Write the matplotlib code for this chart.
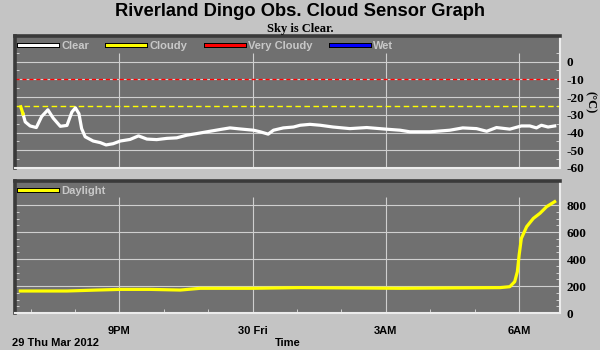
import matplotlib
matplotlib.use("Agg")
import matplotlib.pyplot as plt
from matplotlib.lines import Line2D
from matplotlib.ticker import FixedLocator
import matplotlib.patheffects as pe

# hours counted from 29 Mar 2012 00:00
sky_hours = [18.78, 18.83, 18.88, 18.99, 19.13, 19.25, 19.39, 19.51, 19.67, 19.82,
             19.93, 20.01, 20.09, 20.15, 20.23, 20.41, 20.57, 20.70, 20.86, 21.02,
             21.24, 21.43, 21.62, 21.84, 22.07, 22.29, 22.52, 22.74, 22.97, 23.27,
             23.49, 23.72, 24.02, 24.17, 24.35, 24.47, 24.69, 24.92, 25.07, 25.29,
             25.52, 25.81, 26.19, 26.57, 27.00, 27.32, 27.54, 27.99, 28.44, 28.73,
             29.04, 29.27, 29.49, 29.79, 30.05, 30.24, 30.39, 30.50, 30.65, 30.80]
sky_temp = [-25.5, -29.5, -34.0, -36.3, -37.2, -31.0, -27.2, -31.9, -36.5, -36.0,
            -28.5, -26.1, -29.4, -37.8, -42.4, -44.8, -45.7, -47.0, -46.3, -44.8,
            -43.9, -41.9, -43.7, -44.0, -43.3, -43.0, -41.5, -40.6, -39.6, -38.3,
            -37.4, -38.0, -38.7, -39.6, -40.9, -38.7, -37.4, -36.9, -35.9, -35.4,
            -35.9, -36.9, -37.8, -37.2, -38.1, -38.7, -39.6, -39.6, -38.7, -37.4,
            -37.8, -39.3, -37.2, -38.1, -36.3, -36.3, -37.4, -35.9, -36.9, -36.3]
n_cloudy = 2  # first readings were in the cloudy band

light_hours = [18.77, 19.82, 20.49, 21.02, 21.69, 22.37, 22.82, 24.01, 25.07, 27.32,
               29.57, 29.79, 29.90, 29.96, 30.00, 30.05, 30.17, 30.32, 30.47, 30.62,
               30.80]
light_vals = [163, 163, 170, 175, 175, 170, 183, 183, 188, 183,
              188, 195, 232, 306, 430, 553, 640, 701, 739, 788, 825]

cloudy_limit = -25
very_cloudy_limit = -10

tick_hours = [21, 24, 27, 30]
tick_labels = ["9PM", "30 Fri", "3AM", "6AM"]
temp_ticks = [0, -10, -20, -30, -40, -50, -60]
light_ticks = [0, 200, 400, 600, 800]

BG = "#c4c4c4"
PANEL = "#707070"
GRID = "#cfcfcf"
LEGTXT = "#c8c8c8"

fig = plt.figure(figsize=(6, 3.5), dpi=100, facecolor=BG)
ax1 = fig.add_axes([15 / 600, 1 - 168 / 350, 545 / 600, 132 / 350])
ax2 = fig.add_axes([15 / 600, 1 - 313 / 350, 545 / 600, 132 / 350])

xlim = (18.65, 30.92)
serif_bold = dict(family="Liberation Serif", weight="bold")
sans_bold = dict(family="Liberation Sans", weight="bold")

for ax in (ax1, ax2):
    ax.set_facecolor(PANEL)
    ax.set_xlim(*xlim)
    for s in ("left", "top"):
        ax.spines[s].set_color("#3a3a3a")
        ax.spines[s].set_linewidth(2.6)
    for s in ("right", "bottom"):
        ax.spines[s].set_color("#ececec")
        ax.spines[s].set_linewidth(1.5)
    ax.set_xticks(tick_hours)
    ax.tick_params(axis="y", which="both", direction="in", left=True, right=True,
                   labelleft=False, labelright=True, color=GRID, length=3, width=0.7,
                   pad=5, labelsize=9.5)
    ax.tick_params(axis="x", which="both", direction="in", color=GRID, length=3,
                   width=0.7)

# top panel: sky temperature
ax1.set_ylim(-60, 14.4)
ax1.set_yticks(temp_ticks)
ax1.yaxis.set_minor_locator(FixedLocator(list(range(-55, 10, 10))))
ax1.set_yticklabels([str(v) for v in temp_ticks], **serif_bold)
ax1.tick_params(axis="x", bottom=False, labelbottom=False)
for v in temp_ticks[1:-1] + [0]:
    ax1.axhline(v, color=GRID, lw=0.8, zorder=1)
ax1.vlines(tick_hours, -60, 5, color=GRID, lw=0.8, zorder=1)
ax1.axhline(very_cloudy_limit, color="#ff0000", lw=1.0, dashes=(3, 2), zorder=2)
ax1.axhline(cloudy_limit, color="#ffff00", lw=1.0, dashes=(4, 2.5), zorder=2)
ax1.plot(sky_hours[n_cloudy - 1:], sky_temp[n_cloudy - 1:], color="white", lw=2.3,
         zorder=3)
ax1.plot(sky_hours[:n_cloudy], sky_temp[:n_cloudy], color="#ffff00", lw=2.3, zorder=4)
ax1.text(1.055, 0.5, "(°C)", transform=ax1.transAxes, rotation=270, ha="center",
         va="center", fontsize=9, color="black", **serif_bold)

shadow = [pe.withStroke(linewidth=3.6, foreground="black")]
leg_handles = [Line2D([], [], color=c, lw=2.2, path_effects=shadow)
               for c in ("white", "#ffff00", "#ff0000", "#0000ff")]
leg1 = ax1.legend(leg_handles, ["Clear", "Cloudy", "Very Cloudy", "Wet"], ncol=4,
                  loc="center left", bbox_to_anchor=(4 / 545, 1 - 10 / 132),
                  frameon=False, handlelength=3.4, handletextpad=0.4,
                  columnspacing=1.65, borderpad=0, borderaxespad=0,
                  prop=dict(family="Liberation Sans", weight="bold", size=8))
for t in leg1.get_texts():
    t.set_color(LEGTXT)

# bottom panel: daylight
ax2.set_ylim(0, 978)
ax2.set_yticks(light_ticks)
ax2.yaxis.set_minor_locator(FixedLocator(list(range(50, 850, 50))))
ax2.set_yticklabels([str(v) for v in light_ticks], **serif_bold)
ax2.xaxis.set_minor_locator(FixedLocator(list(range(19, 31))))
ax2.tick_params(axis="x", which="major", pad=9, labelsize=8)
ax2.set_xticklabels(tick_labels, **sans_bold)
for v in light_ticks[1:]:
    ax2.axhline(v, color=GRID, lw=0.8, zorder=1)
ax2.vlines(tick_hours, 0, 860, color=GRID, lw=0.8, zorder=1)
ax2.plot(light_hours, light_vals, color="#ffff00", lw=2.3, zorder=3)
leg2 = ax2.legend([Line2D([], [], color="#ffff00", lw=2.2, path_effects=shadow)],
                  ["Daylight"], loc="center left",
                  bbox_to_anchor=(4 / 545, 1 - 10 / 132), frameon=False,
                  handlelength=3.4, handletextpad=0.4, borderpad=0, borderaxespad=0,
                  prop=dict(family="Liberation Sans", weight="bold", size=8))
for t in leg2.get_texts():
    t.set_color(LEGTXT)

fig.text(0.5, 1 - 12 / 350, "Riverland Dingo Obs. Cloud Sensor Graph", ha="center",
         va="center", fontsize=13.2, color="black", **sans_bold)
fig.text(0.5, 1 - 29 / 350, "Sky is Clear.", ha="center", va="center", fontsize=9,
         color="black", **serif_bold)
fig.text(12 / 600, 1 - 343 / 350, "29 Thu Mar 2012", ha="left", va="center",
         fontsize=8, **sans_bold)
fig.text(287.5 / 600, 1 - 343 / 350, "Time", ha="center", va="center", fontsize=8,
         **sans_bold)

fig.savefig("out.png", dpi=100, facecolor=BG)
